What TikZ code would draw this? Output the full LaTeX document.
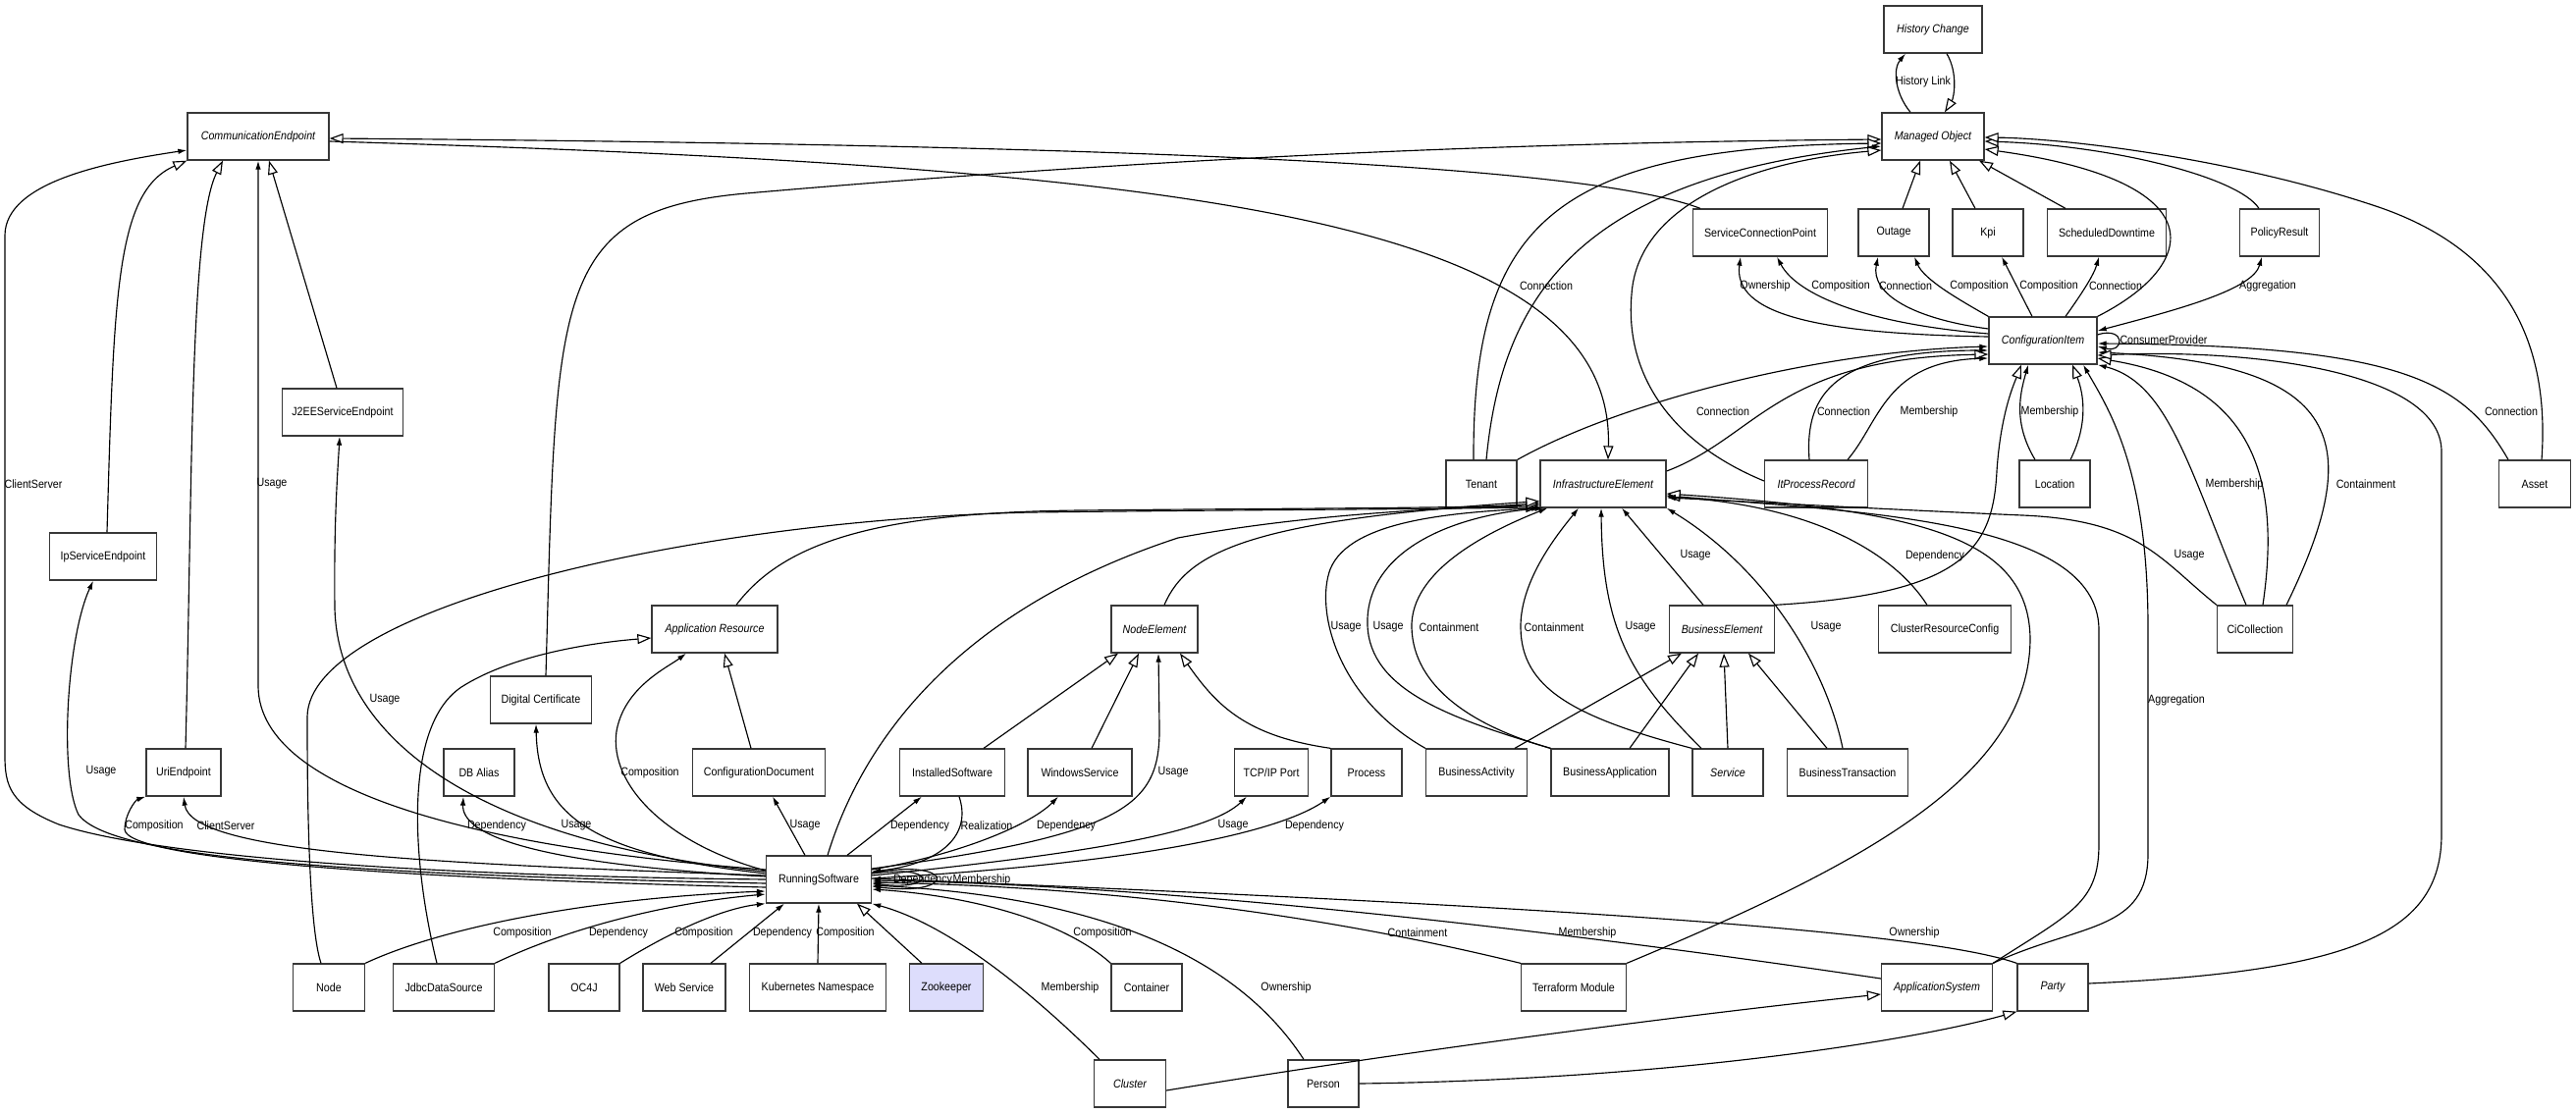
\documentclass[tikz,border=0pt]{standalone}
\usepackage{fontspec}
\setmainfont{Liberation Sans}[FakeStretch=0.89]
\usetikzlibrary{arrows.meta}
\definecolor{zkfill}{RGB}{221,221,252}
\begin{document}
\begin{tikzpicture}[x=1pt,y=-1pt,
  box/.style={draw=black!78, line width=1.3pt, minimum height=48pt, inner sep=0pt, fill=white, font=\fontsize{12}{14}\selectfont},
  abs/.style={box, font=\fontsize{12}{14}\selectfont\itshape},
  lbl/.style={inner sep=0pt, font=\fontsize{12}{14}\selectfont},
  e/.style={draw=black, line width=1.15pt},
  gen/.style={e, -{Triangle[length=14pt, width=10pt, fill=white]}},
  asc/.style={e, -{Latex[length=9pt, width=5.5pt]}},
  asc2/.style={e, {Latex[length=9pt, width=5.5pt]}-{Latex[length=9pt, width=5.5pt]}},
]
\fill[white] (0,0) rectangle (2624,1135);
\useasboundingbox (0,0) rectangle (2624,1135);

% ---------------- nodes
\node[abs, minimum width=100pt] (histchange) at (1969,30) {History Change};
\node[abs, minimum width=104pt] (mo) at (1969,139) {Managed Object};
\node[abs, minimum width=144pt] (ce) at (263,139) {CommunicationEndpoint};
\node[box, minimum width=137pt] (scp) at (1793,237) {ServiceConnectionPoint};
\node[box, minimum width=72pt] (outage) at (1929,237) {Outage};
\node[box, minimum width=72pt] (kpi) at (2025,237) {Kpi};
\node[box, minimum width=121pt] (sched) at (2146,237) {ScheduledDowntime};
\node[box, minimum width=81pt] (policy) at (2322,237) {PolicyResult};
\node[abs, minimum width=110pt] (ci) at (2081,347) {ConfigurationItem};
\node[box, minimum width=123pt] (j2ee) at (349,420) {J2EEServiceEndpoint};
\node[box, minimum width=72pt] (tenant) at (1509,493) {Tenant};
\node[abs, minimum width=128pt] (ie) at (1633,493) {InfrastructureElement};
\node[abs, minimum width=105pt] (itpr) at (1850,493) {ItProcessRecord};
\node[box, minimum width=72pt] (location) at (2093,493) {Location};
\node[box, minimum width=73pt] (asset) at (2582,493) {Asset};
\node[box, minimum width=109pt] (ipse) at (105,567) {IpServiceEndpoint};
\node[abs, minimum width=128pt] (appres) at (728,641) {Application Resource};
\node[abs, minimum width=88pt] (nodeel) at (1176,641) {NodeElement};
\node[abs, minimum width=107pt] (busel) at (1754,641) {BusinessElement};
\node[box, minimum width=135pt] (crc) at (1981,641) {ClusterResourceConfig};
\node[box, minimum width=77pt] (cicoll) at (2297,641) {CiCollection};
\node[box, minimum width=103pt] (digcert) at (551,713) {Digital Certificate};
\node[box, minimum width=76pt] (uri) at (187,787) {UriEndpoint};
\node[box, minimum width=72pt] (dbalias) at (488,787) {DB Alias};
\node[box, minimum width=135pt] (confdoc) at (773,787) {ConfigurationDocument};
\node[box, minimum width=107pt] (instsw) at (970,787) {InstalledSoftware};
\node[box, minimum width=106pt] (winsvc) at (1100,787) {WindowsService};
\node[box, minimum width=75pt] (tcpip) at (1295,787) {TCP/IP Port};
\node[box, minimum width=72pt] (process) at (1392,787) {Process};
\node[box, minimum width=103pt] (busact) at (1504,787) {BusinessActivity};
\node[box, minimum width=120pt] (busapp) at (1640,787) {BusinessApplication};
\node[abs, minimum width=72pt] (service) at (1760,787) {Service};
\node[box, minimum width=123pt] (bustrans) at (1882,787) {BusinessTransaction};
\node[box, minimum width=107pt] (rs) at (834,896) {RunningSoftware};
\node[box, minimum width=73pt] (node) at (335,1006) {Node};
\node[box, minimum width=103pt] (jdbc) at (452,1006) {JdbcDataSource};
\node[box, minimum width=72pt] (oc4j) at (595,1006) {OC4J};
\node[box, minimum width=84pt] (websvc) at (697,1006) {Web Service};
\node[box, minimum width=139pt] (k8s) at (833,1006) {Kubernetes Namespace};
\node[box, minimum width=75pt, fill=zkfill] (zk) at (964,1006) {Zookeeper};
\node[box, minimum width=72pt] (container) at (1168,1006) {Container};
\node[box, minimum width=107pt] (tm) at (1603,1006) {Terraform Module};
\node[abs, minimum width=113pt] (appsys) at (1973,1006) {ApplicationSystem};
\node[abs, minimum width=72pt] (party) at (2091,1006) {Party};
\node[abs, minimum width=73pt] (cluster) at (1151,1104) {Cluster};
\node[box, minimum width=72pt] (person) at (1348,1104) {Person};

% ---------------- top
\draw[asc] ([xshift=-23pt]mo.north) .. controls (1930,95) and (1928,70) .. ([xshift=-28pt]histchange.south);
\draw[gen] ([xshift=14pt]histchange.south) .. controls (1995,75) and (1990,100) .. ([xshift=12pt]mo.north);
\draw[gen] ([xshift=-61pt]scp.north) .. controls (1620,170) and (1200,148) .. ([yshift=-2pt]ce.east);
\draw[gen] ([yshift=-5pt]ce.east) .. controls (1200,170) and (1645,220) .. ([xshift=5pt]ie.north);
\draw[gen] ([xshift=5pt]digcert.north) .. controls (567,300) and (560,215) .. (760,197) .. controls (1300,150) and (1700,144) .. ([yshift=-3pt]mo.west);
\draw[gen] ([xshift=-8pt]tenant.north) .. controls (1500,230) and (1580,150) .. ([yshift=-7pt]mo.west);
\draw[asc] ([xshift=5pt]tenant.north) .. controls (1530,300) and (1610,180) .. ([yshift=-10pt]mo.west);
\draw[gen] ([yshift=3pt]itpr.west) .. controls (1700,450) and (1655,380) .. (1662,300) .. controls (1668,210) and (1780,165) .. ([yshift=-14pt]mo.west);
\draw[gen] (ci.north east) .. controls (2240,270) and (2260,185) .. ([yshift=-13pt]mo.east);
\draw[gen] ([xshift=-21pt]policy.north) .. controls (2280,180) and (2150,148) .. ([yshift=-5pt]mo.east);
\draw[gen] ([xshift=7pt]asset.north) .. controls (2596,370) and (2570,260) .. (2420,210) .. controls (2270,160) and (2100,141) .. ([yshift=-1pt]mo.east);
\draw[gen] ([xshift=9pt]outage.north) -- ([xshift=-13pt]mo.south);
\draw[gen] ([xshift=-13pt]kpi.north) -- ([xshift=17pt]mo.south);
\draw[gen] ([xshift=-42pt]sched.north) -- ([xshift=47pt]mo.south);

% ---------------- CI outgoing
\draw[asc] ([yshift=4pt]ci.west) .. controls (1850,340) and (1765,320) .. ([xshift=-20pt]scp.south);
\draw[asc] ([yshift=7pt]ci.west) .. controls (1900,330) and (1830,300) .. ([xshift=17pt]scp.south);
\draw[asc] ([yshift=12pt]ci.west) .. controls (1950,325) and (1905,300) .. ([xshift=-16pt]outage.south);
\draw[asc] (ci.north west) .. controls (1995,305) and (1960,285) .. ([xshift=21pt]outage.south);
\draw[asc] ([xshift=-11pt]ci.north) -- ([xshift=14pt]kpi.south);
\draw[asc] ([xshift=23pt]ci.north) .. controls (2120,300) and (2133,280) .. ([xshift=-8pt]sched.south);
\draw[asc2] ([yshift=10pt]ci.east) .. controls (2220,315) and (2295,295) .. ([xshift=-18pt]policy.south);
\draw[asc] ([yshift=6pt]ci.east) .. controls (2165,332) and (2165,360) .. ([yshift=-6pt]ci.east);

% ---------------- into CI
\draw[asc] (tenant.north east) .. controls (1650,410) and (1850,358) .. ([yshift=-6pt]ci.west);
\draw[gen] ([yshift=13pt]ie.east) .. controls (1790,445) and (1810,365) .. ([yshift=-14pt]ci.west);
\draw[asc] ([xshift=-7pt]itpr.north) .. controls (1838,400) and (1870,357) .. ([yshift=-10pt]ci.west);
\draw[asc] ([xshift=32pt]itpr.north) .. controls (1915,430) and (1920,368) .. ([yshift=-18pt]ci.west);
\draw[gen] (busel.north east) .. controls (2000,605) and (2030,560) .. (2034,480) .. controls (2038,420) and (2052,390) .. ([xshift=-22pt]ci.south);
\draw[asc] ([xshift=-20pt]location.north) .. controls (2050,430) and (2058,400) .. ([xshift=-15pt]ci.south);
\draw[gen] ([xshift=16pt]location.north) .. controls (2128,430) and (2122,400) .. ([xshift=30pt]ci.south);
\draw[asc] (appsys.north east) .. controls (2120,940) and (2188,950) .. (2188,870) -- (2188,640) .. controls (2188,480) and (2150,420) .. ([xshift=41pt]ci.south);
\draw[gen] (appsys.north east) .. controls (2110,930) and (2138,920) .. (2138,860) -- (2138,640) .. controls (2135,530) and (1900,522) .. ([yshift=-12pt]ie.east);
\draw[gen] (tm.north east) .. controls (1900,880) and (2068,790) .. (2068,650) .. controls (2066,545) and (1950,520) .. ([yshift=-10pt]ie.east);
\draw[asc] ([xshift=-18pt]crc.north) .. controls (1930,565) and (1850,515) .. ([yshift=-13pt]ie.east);
\draw[asc] (cicoll.north west) .. controls (2200,570) and (2180,530) .. (2060,525) .. controls (1900,518) and (1760,510) .. ([yshift=-14pt]ie.east);
\draw[gen] ([xshift=8pt]cicoll.north) .. controls (2325,480) and (2290,390) .. ([yshift=-18pt]ci.east);
\draw[asc] ([xshift=-9pt]cicoll.north) .. controls (2230,480) and (2210,390) .. (ci.south east);
\draw[asc] ([xshift=32pt]cicoll.north) .. controls (2410,450) and (2390,370) .. ([yshift=-12pt]ci.east);
\draw[asc] ([xshift=-27pt]asset.north) .. controls (2510,390) and (2450,352) .. ([yshift=-3pt]ci.east);
\draw[gen] ([yshift=4pt]party.east) .. controls (2400,990) and (2487,950) .. (2487,850) -- (2487,460) .. controls (2487,380) and (2300,355) .. ([yshift=-15pt]ci.east);

% ---------------- RS left side
\draw[asc] (rs.west) .. controls (400,892) and (150,870) .. (60,840) .. controls (10,820) and (5,800) .. (5,770) -- (5,240) .. controls (5,185) and (110,165) .. ([yshift=-14pt]ce.west);
\draw[gen] ([xshift=4pt]ipse.north) .. controls (116,300) and (118,195) .. (ce.south west);
\draw[asc] ([yshift=-4pt]rs.west) .. controls (300,890) and (110,870) .. (80,830) .. controls (60,790) and (68,650) .. ([xshift=-10pt]ipse.south);
\draw[gen] ([xshift=2pt]uri.north) .. controls (196,500) and (193,230) .. ([xshift=-36pt]ce.south);
\draw[asc] ([yshift=-8pt]rs.west) .. controls (400,895) and (128,875) .. (127,845) .. controls (127,830) and (138,815) .. (uri.south west);
\draw[asc] ([yshift=4pt]rs.west) .. controls (450,880) and (195,870) .. (uri.south);
\draw[asc] ([yshift=10pt]rs.west) .. controls (500,865) and (265,810) .. (263,700) -- (ce.south);
\draw[gen] ([xshift=-6pt]j2ee.north) -- ([xshift=11pt]ce.south);
\draw[asc] ([yshift=8pt]rs.west) .. controls (500,860) and (345,760) .. (341,620) .. controls (340,530) and (344,480) .. ([xshift=-3pt]j2ee.south);
\draw[gen] ([xshift=-8pt]node.north) .. controls (313,940) and (313,780) .. (313,730) .. controls (315,620) and (700,530) .. (1050,522) .. controls (1300,519) and (1450,519) .. ([yshift=1pt]ie.south west);
\draw[gen] ([xshift=22pt]appres.north) .. controls (800,550) and (900,522) .. (1100,520) .. controls (1300,518) and (1450,518) .. ([yshift=3pt]ie.south west);
\draw[gen] ([xshift=9pt]rs.north) .. controls (880,750) and (980,620) .. (1200,548) .. controls (1350,520) and (1500,518) .. ([yshift=5pt]ie.south west);
\draw[gen] ([xshift=10pt]nodeel.north) .. controls (1210,560) and (1280,530) .. ([yshift=7pt]ie.south west);

% ---------------- RS bottom
\draw[asc] (node.north east) .. controls (450,945) and (600,915) .. ([yshift=-12pt]rs.west);
\draw[gen] ([xshift=-7pt]jdbc.north) .. controls (420,880) and (410,740) .. (470,700) .. controls (520,668) and (600,655) .. ([yshift=-9pt]appres.west);
\draw[asc] (jdbc.north east) .. controls (580,945) and (680,920) .. ([yshift=-15pt]rs.west);
\draw[asc] (oc4j.north east) .. controls (690,945) and (740,925) .. (rs.south west);
\draw[asc] ([xshift=27pt]websvc.north) -- ([xshift=-35pt]rs.south);
\draw[asc] (k8s.north) -- (rs.south);
\draw[gen] ([xshift=-25pt]zk.north) -- ([xshift=39pt]rs.south);
\draw[asc] ([xshift=-31pt]cluster.north) .. controls (1040,1000) and (960,940) .. (rs.south east);
\draw[asc] (container.north west) .. controls (1080,935) and (980,912) .. ([yshift=-10pt]rs.east);
\draw[asc] ([xshift=-20pt]person.north) .. controls (1270,990) and (1150,915) .. ([yshift=-6pt]rs.east);
\draw[asc] (tm.north west) .. controls (1420,950) and (1200,905) .. ([yshift=-3pt]rs.east);
\draw[asc] ([yshift=9pt]appsys.west) .. controls (1600,950) and (1200,902) .. ([yshift=-1pt]rs.east);
\draw[asc] (party.north west) .. controls (1950,945) and (1500,920) .. ([yshift=1pt]rs.east);
\draw[gen] ([yshift=-7pt]cluster.east) .. controls (1500,1060) and (1800,1025) .. ([yshift=-7pt]appsys.west);
\draw[gen] (person.east) .. controls (1700,1100) and (1950,1060) .. (party.south west);

% ---------------- RS top / right
\draw[asc] ([xshift=-14pt]rs.north) -- ([xshift=14pt]confdoc.south);
\draw[gen] ([xshift=-8pt]confdoc.north) -- ([xshift=10pt]appres.south);
\draw[asc] ([yshift=9pt]rs.west) .. controls (680,860) and (620,800) .. (628,745) .. controls (636,700) and (680,680) .. ([xshift=-29pt]appres.south);
\draw[asc] ([yshift=6pt]rs.west) .. controls (600,870) and (548,830) .. ([xshift=-5pt]digcert.south);
\draw[asc] ([yshift=3pt]rs.west) .. controls (540,880) and (470,850) .. ([xshift=-16pt]dbalias.south);
\draw[asc] ([xshift=29pt]rs.north) -- ([xshift=-31pt]instsw.south);
\draw[asc] ([xshift=7pt]instsw.south) .. controls (990,850) and (960,880) .. ([yshift=8pt]rs.east);
\draw[gen] ([xshift=32pt]instsw.north) -- ([xshift=-37pt]nodeel.south);
\draw[gen] ([xshift=12pt]winsvc.north) -- ([xshift=-16pt]nodeel.south);
\draw[asc] ([yshift=10pt]rs.east) .. controls (980,870) and (1050,840) .. ([xshift=-22pt]winsvc.south);
\draw[asc] ([yshift=11pt]rs.east) .. controls (1150,850) and (1182,820) .. (1181,740) -- ([xshift=4pt]nodeel.south);
\draw[gen] (process.north west) .. controls (1270,750) and (1240,720) .. ([xshift=26pt]nodeel.south);
\draw[asc] ([yshift=4pt]rs.east) .. controls (1100,870) and (1230,850) .. ([xshift=-25pt]tcpip.south);
\draw[asc] ([yshift=1pt]rs.east) .. controls (1150,880) and (1300,850) .. (process.south west);
\draw[asc] ([yshift=6pt]rs.east) .. controls (955,880) and (955,908) .. ([yshift=-4pt]rs.east);
\draw[asc] ([yshift=7pt]rs.east) .. controls (975,874) and (975,914) .. ([yshift=-7pt]rs.east);

% ---------------- business
\draw[gen] ([xshift=39pt]busact.north) -- ([xshift=-41pt]busel.south);
\draw[gen] ([xshift=20pt]busapp.north) -- ([xshift=-24pt]busel.south);
\draw[gen] (service.north) -- ([xshift=2pt]busel.south);
\draw[gen] ([xshift=-21pt]bustrans.north) -- ([xshift=27pt]busel.south);
\draw[asc] (busact.north west) .. controls (1360,710) and (1340,620) .. (1355,580) .. controls (1375,530) and (1480,522) .. ([xshift=1pt]ie.south west);
\draw[asc] (busapp.north west) .. controls (1470,730) and (1390,700) .. (1393,630) .. controls (1396,560) and (1480,525) .. ([xshift=4pt]ie.south west);
\draw[asc] (busapp.north west) .. controls (1500,740) and (1440,700) .. (1438,640) .. controls (1436,580) and (1520,540) .. ([xshift=8pt]ie.south west);
\draw[asc] (service.north west) .. controls (1600,730) and (1550,700) .. (1549,640) .. controls (1548,590) and (1590,540) .. ([xshift=-25pt]ie.south);
\draw[asc] ([xshift=-27pt]service.north) .. controls (1660,690) and (1632,640) .. ([xshift=-2pt]ie.south);
\draw[asc] ([xshift=-19pt]busel.north) -- ([xshift=19pt]ie.south);
\draw[asc] ([xshift=-5pt]bustrans.north) .. controls (1860,680) and (1800,580) .. (ie.south east);

% ---------------- labels
\node[lbl] (lHL) at (1959,83) {History Link};
\node[lbl] (lC1) at (1575,291) {Connection};
\node[lbl] (lOwn1) at (1798,291) {Ownership};
\node[lbl] (lComp1) at (1875,291) {Composition};
\node[lbl] (lConn2) at (1941,291) {Connection};
\node[lbl] (lComp2) at (2016,291) {Composition};
\node[lbl] (lComp3) at (2087,291) {Composition};
\node[lbl] (lConn3) at (2155,291) {Connection};
\node[lbl] (lAgg1) at (2310,291) {Aggregation};
\node[lbl] (lCP) at (2204,346) {ConsumerProvider};
\node[lbl] (lConn4) at (1755,419) {Connection};
\node[lbl] (lConn5) at (1878,419) {Connection};
\node[lbl] (lMem1) at (1965,419) {Membership};
\node[lbl] (lMem2) at (2088,419) {Membership};
\node[lbl] (lConn6) at (2558,419) {Connection};
\node[lbl] (lCS1) at (34,493) {ClientServer};
\node[lbl] (lU1) at (277,493) {Usage};
\node[lbl] (lMem3) at (2276,493) {Membership};
\node[lbl] (lCont1) at (2410,493) {Containment};
\node[lbl] (lU2) at (1727,566) {Usage};
\node[lbl] (lDep1) at (1971,566) {Dependency};
\node[lbl] (lU3) at (2230,566) {Usage};
\node[lbl] (lU4) at (1371,639) {Usage};
\node[lbl] (lU5) at (1414,639) {Usage};
\node[lbl] (lCont2) at (1476,639) {Containment};
\node[lbl] (lCont3) at (1583,639) {Containment};
\node[lbl] (lU6) at (1671,639) {Usage};
\node[lbl] (lU7) at (1860,639) {Usage};
\node[lbl] (lU8) at (392,713) {Usage};
\node[lbl] (lAgg2) at (2217,713) {Aggregation};
\node[lbl] (lU9) at (103,786) {Usage};
\node[lbl] (lComp4) at (662,787) {Composition};
\node[lbl] (lU10) at (1195,787) {Usage};
\node[lbl] (lComp5) at (157,841) {Composition};
\node[lbl] (lCS2) at (230,841) {ClientServer};
\node[lbl] (lDep2) at (506,841) {Dependency};
\node[lbl] (lU11) at (587,841) {Usage};
\node[lbl] (lU12) at (820,841) {Usage};
\node[lbl] (lDep3) at (937,841) {Dependency};
\node[lbl] (lReal) at (1005,841) {Realization};
\node[lbl] (lDep4) at (1086,841) {Dependency};
\node[lbl] (lU13) at (1256,841) {Usage};
\node[lbl] (lDep5) at (1339,841) {Dependency};
\node[lbl] (lDep6) at (940,896) {Dependency};
\node[lbl] (lMem4) at (1000,896) {Membership};
\node[lbl] (lComp6) at (532,950) {Composition};
\node[lbl] (lDep7) at (630,950) {Dependency};
\node[lbl] (lComp7) at (717,950) {Composition};
\node[lbl] (lDep8) at (797,950) {Dependency};
\node[lbl] (lComp8) at (861,950) {Composition};
\node[lbl] (lComp9) at (1123,950) {Composition};
\node[lbl] (lCont4) at (1444,950) {Containment};
\node[lbl] (lMem5) at (1617,950) {Membership};
\node[lbl] (lOwn2) at (1950,950) {Ownership};
\node[lbl] (lMem6) at (1090,1006) {Membership};
\node[lbl] (lOwn3) at (1310,1006) {Ownership};
\end{tikzpicture}
\end{document}
